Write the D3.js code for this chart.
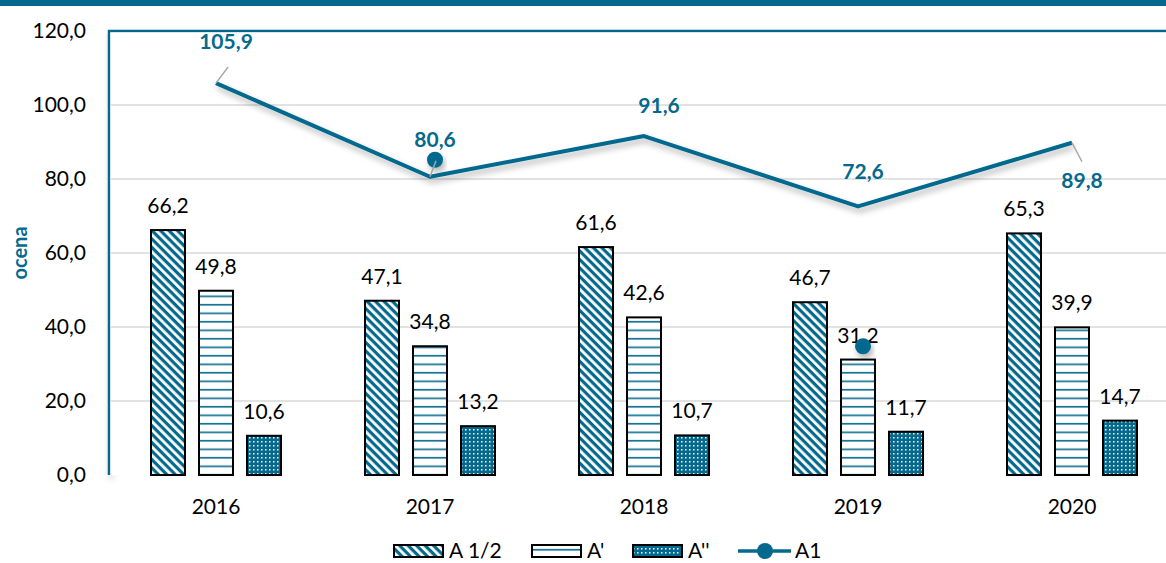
<!DOCTYPE html>
<meta charset="utf-8">
<style>
    body { margin: 0; background: #fff; }
    svg { font-family: Lato, "Open Sans", sans-serif; }
</style>
<body>
<script src="https://cdn.jsdelivr.net/npm/d3@7"></script>
<script>
    /* data */
    var years = ["2016", "2017", "2018", "2019", "2020"];
    var seriesNames = ["A 1/2", "A'", "A''"];
    var aHalf = [66.2, 47.1, 61.6, 46.7, 65.3];
    var aPrime = [49.8, 34.8, 42.6, 31.2, 39.9];
    var aDouble = [10.6, 13.2, 10.7, 11.7, 14.7];
    var a1 = [105.9, 80.6, 91.6, 72.6, 89.8];
    var yTicks = [0, 20, 40, 60, 80, 100, 120];
    // two stray markers visible in the picture
    var strayMarkers = [{ year: "2017", value: 85.2, dx: 5 }, { year: "2019", value: 34.8, dx: 5 }];

    var w = 1166, h = 563;
    var teal = "#05698d";
    var padLeft = 109, padTop = 31, axisY = 475, padRight = padLeft + 5 * 214;
    var fs = 21;

    var svg = d3.select("body").append("svg")
        .attr("width", w)
        .attr("height", h);

    var defs = svg.append("defs");

    // patterns
    var p1 = defs.append("pattern").attr("id", "pDiag")
        .attr("patternUnits", "userSpaceOnUse").attr("width", 6).attr("height", 6)
        .attr("patternTransform", "rotate(45)");
    p1.append("rect").attr("width", 6).attr("height", 6).attr("fill", "#fff");
    p1.append("rect").attr("width", 6).attr("height", 3.2).attr("fill", teal);

    var p2 = defs.append("pattern").attr("id", "pHoriz")
        .attr("patternUnits", "userSpaceOnUse").attr("width", 8).attr("height", 8.5);
    p2.append("rect").attr("width", 8).attr("height", 8.5).attr("fill", "#fff");
    p2.append("rect").attr("y", 6.5).attr("width", 8).attr("height", 1.6).attr("fill", teal);

    var p3 = defs.append("pattern").attr("id", "pDots")
        .attr("patternUnits", "userSpaceOnUse").attr("width", 4).attr("height", 4);
    p3.append("rect").attr("width", 4).attr("height", 4).attr("fill", teal);
    p3.append("rect").attr("x", 1).attr("y", 1).attr("width", 1.5).attr("height", 1.5).attr("fill", "#fff");

    var shadow = defs.append("filter").attr("id", "shadow")
        .attr("x", "-10%").attr("y", "-10%").attr("width", "130%").attr("height", "140%");
    shadow.append("feDropShadow").attr("dx", 2).attr("dy", 4).attr("stdDeviation", 3)
        .attr("flood-color", "#000").attr("flood-opacity", 0.3);

    var fills = ["url(#pDiag)", "url(#pHoriz)", "url(#pDots)"];

    // top banner
    svg.append("rect").attr("x", 0).attr("y", 0).attr("width", w).attr("height", 6).attr("fill", teal);

    // scales
    var xScale = d3.scaleBand().domain(years).range([padLeft, padRight]);
    var xInner = d3.scaleBand().domain(seriesNames).range([-65, 65]).paddingInner(0.292);
    var yScale = d3.scaleLinear().domain([0, 120]).range([axisY, padTop]);

    // plot frame with shadow
    svg.append("path")
        .attr("d", "M" + padLeft + "," + axisY + "V" + padTop + "H" + (w + 5))
        .attr("fill", "none").attr("stroke", teal).attr("stroke-width", 2.5)
        .attr("filter", "url(#shadow)");
    svg.append("rect").attr("x", padLeft + 1.5).attr("y", padTop + 1.5)
        .attr("width", w - padLeft).attr("height", axisY - padTop - 1).attr("fill", "#fff");

    // gridlines
    svg.append("g").selectAll("line")
        .data(yTicks.filter(function (d) { return d > 0 && d < 120; }))
        .enter().append("line")
        .attr("x1", padLeft + 2).attr("x2", w)
        .attr("y1", function (d) { return yScale(d); })
        .attr("y2", function (d) { return yScale(d); })
        .attr("stroke", "#d9d9d9").attr("stroke-width", 1.5);

    // y axis
    var yAxis = d3.axisLeft(yScale).tickValues(yTicks).tickSize(0).tickPadding(0)
        .tickFormat(function (d) { return d3.format(".1f")(d).replace(".", ","); });
    var gy = svg.append("g").attr("transform", "translate(86,0)").call(yAxis);
    gy.select(".domain").remove();
    gy.selectAll("text").attr("font-size", fs).attr("fill", "#000")
        .attr("font-family", "Lato, sans-serif");

    // y title
    svg.append("text")
        .attr("transform", "translate(27,253) rotate(-90)")
        .attr("text-anchor", "middle")
        .attr("font-size", 20).attr("font-weight", "bold").attr("fill", teal)
        .text("ocena");

    // bars
    var barData = [];
    years.forEach(function (y, i) {
        [aHalf, aPrime, aDouble].forEach(function (arr, j) {
            barData.push({ year: y, series: seriesNames[j], value: arr[i], idx: j });
        });
    });

    var bars = svg.append("g");
    bars.selectAll("rect").data(barData).enter().append("rect")
        .attr("x", function (d) { return xScale(d.year) + xScale.bandwidth() / 2 + xInner(d.series); })
        .attr("y", function (d) { return yScale(d.value); })
        .attr("width", xInner.bandwidth())
        .attr("height", function (d) { return axisY - yScale(d.value); })
        .attr("fill", function (d) { return fills[d.idx]; })
        .attr("stroke", "#000").attr("stroke-width", 2);

    bars.selectAll("text").data(barData).enter().append("text")
        .attr("x", function (d) { return xScale(d.year) + xScale.bandwidth() / 2 + xInner(d.series) + xInner.bandwidth() / 2; })
        .attr("y", function (d) { return yScale(d.value) - 17; })
        .attr("text-anchor", "middle").attr("font-size", fs).attr("fill", "#000")
        .text(function (d) { return d3.format(".1f")(d.value).replace(".", ","); });

    // x axis
    svg.append("line").attr("x1", padLeft).attr("x2", w).attr("y1", axisY).attr("y2", axisY)
        .attr("stroke", "#a9c4cf").attr("stroke-width", 2).attr("filter", "url(#shadow)");
    var xAxis = d3.axisBottom(xScale).tickSize(0).tickPadding(0);
    var gx = svg.append("g").attr("transform", "translate(0," + axisY + ")").call(xAxis);
    gx.select(".domain").remove();
    gx.selectAll("text").attr("font-size", fs).attr("fill", "#000").attr("dy", "1.85em")
        .attr("font-family", "Lato, sans-serif");

    // A1 line
    var cx = function (d, i) { return xScale(years[i]) + xScale.bandwidth() / 2; };
    var line = d3.line().x(cx).y(function (d) { return yScale(d); });
    svg.append("path").attr("d", line(a1))
        .attr("fill", "none").attr("stroke", teal).attr("stroke-width", 4)
        .attr("stroke-linejoin", "round").attr("filter", "url(#shadow)");

    // stray markers
    svg.append("g").selectAll("circle").data(strayMarkers).enter().append("circle")
        .attr("cx", function (d) { return xScale(d.year) + xScale.bandwidth() / 2 + d.dx; })
        .attr("cy", function (d) { return yScale(d.value); })
        .attr("r", 8).attr("fill", teal).attr("filter", "url(#shadow)");

    // A1 labels with leader lines
    var labelOffsets = [[10, -34], [5, -30], [15, -23], [5, -27], [10, 45]];
    var leaders = [[12, -16], [6, -16], null, null, [10, 19]];
    var lg = svg.append("g");
    a1.forEach(function (v, i) {
        var px = cx(v, i), py = yScale(v);
        if (leaders[i]) {
            lg.append("line").attr("x1", px).attr("y1", py)
                .attr("x2", px + leaders[i][0]).attr("y2", py + leaders[i][1])
                .attr("stroke", "#a6a6a6").attr("stroke-width", 1.5);
        }
        lg.append("text")
            .attr("x", px + labelOffsets[i][0]).attr("y", py + labelOffsets[i][1])
            .attr("text-anchor", "middle").attr("font-size", fs).attr("font-weight", "bold")
            .attr("fill", teal)
            .text(d3.format(".1f")(v).replace(".", ","));
    });

    // legend
    var legend = svg.append("g").attr("transform", "translate(0,551)");
    var legendItems = [
        { name: "A 1/2", x: 394, fill: fills[0] },
        { name: "A'", x: 532, fill: fills[1] },
        { name: "A''", x: 633, fill: fills[2] }
    ];
    legendItems.forEach(function (d) {
        legend.append("rect").attr("x", d.x).attr("y", -6).attr("width", 49).attr("height", 12)
            .attr("fill", d.fill).attr("stroke", "#000").attr("stroke-width", 2);
        legend.append("text").attr("x", d.x + 55).attr("y", 0).attr("dy", "0.35em")
            .attr("font-size", fs).attr("fill", "#000").text(d.name);
    });
    legend.append("line").attr("x1", 738).attr("x2", 791).attr("y1", 0).attr("y2", 0)
        .attr("stroke", teal).attr("stroke-width", 3.5);
    legend.append("circle").attr("cx", 765).attr("cy", 0).attr("r", 8).attr("fill", teal);
    legend.append("text").attr("x", 795).attr("y", 0).attr("dy", "0.35em")
        .attr("font-size", fs).attr("fill", "#000").text("A1");
</script>
</body>
